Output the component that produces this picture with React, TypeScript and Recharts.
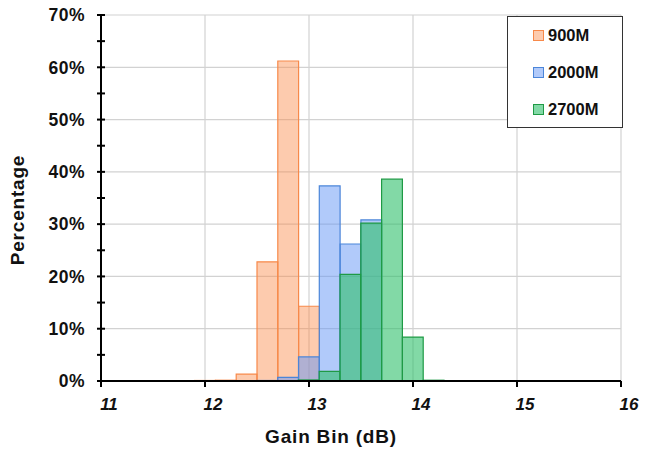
import { BarChart, Bar, XAxis, YAxis, CartesianGrid, Legend, Label } from "recharts";

// gain bins (dB), 0.2 dB wide, centred on the value
const gainBins = [12.0, 12.2, 12.4, 12.6, 12.8, 13.0, 13.2, 13.4, 13.6, 13.8, 14.0, 14.2];
// percentage of parts in each bin
const pct900M = [0.1, 0.15, 1.3, 22.8, 61.2, 14.3, null, null, null, null, null, null];
const pct2000M = [null, null, null, 0.1, 0.7, 4.6, 37.3, 26.2, 30.8, null, null, null];
const pct2700M = [null, null, null, null, null, 0.2, 1.85, 20.4, 30.2, 38.6, 8.4, 0.15];

const xTicks = [11, 12, 13, 14, 15, 16];
const yTicks = [0, 5, 10, 15, 20, 25, 30, 35, 40, 45, 50, 55, 60, 65, 70];
const yGrid = [0, 10, 20, 30, 40, 50, 60, 70];
const yMax = 70;
const binWidth = 0.2;

const series = [
  { key: "b900", name: "900M", fill: "#fb8c4c", fillOpacity: 0.45, stroke: "#f7894a", legendBg: "#fb8c4c73" },
  { key: "b2000", name: "2000M", fill: "#6495f5", fillOpacity: 0.5, stroke: "#4b85d9", legendBg: "#6495f580" },
  { key: "b2700", name: "2700M", fill: "#2ebf6a", fillOpacity: 0.6, stroke: "#1f9a45", legendBg: "#2ebf6a99" },
];

const data = gainBins.map((g, i) => ({
  gain: g,
  b900: pct900M[i],
  b2000: pct2000M[i],
  b2700: pct2700M[i],
}));

const W = 646;
const H = 454;
const margin = { top: 15, right: 25, bottom: 0, left: 41 };
const Y_AXIS_W = 60;
const plotW = W - margin.left - margin.right - Y_AXIS_W;
const barSize = (plotW / (xTicks[xTicks.length - 1] - xTicks[0])) * binWidth;

const FONT = "'Liberation Sans', Arial, sans-serif";

const YTick = (props: any) => {
  const { x, y, payload } = props;
  const major = payload.value % 10 === 0;
  return (
    <g>
      <line x1={x + 12} x2={x + 20} y1={y} y2={y} stroke="#000" strokeWidth={2} />
      {major && (
        <text
          x={x}
          y={y}
          dy="0.36em"
          textAnchor="end"
          fontFamily={FONT}
          fontWeight="bold"
          fontSize={17.5}
          letterSpacing={0.5}
          fill="#111"
        >
          {payload.value}%
        </text>
      )}
    </g>
  );
};

const XTick = (props: any) => {
  const { x, y, payload } = props;
  return (
    <text
      x={x + 8}
      y={y}
      dy="0.71em"
      textAnchor="middle"
      fontFamily={FONT}
      fontWeight="bold"
      fontStyle="italic"
      fontSize={17}
      fill="#111"
    >
      {payload.value}
    </text>
  );
};

const renderLegend = () => (
  <div
    style={{
      width: 116,
      height: 112,
      boxSizing: "border-box",
      border: "1px solid #333",
      background: "#fff",
    }}
  >
    {series.map((s) => (
      <div key={s.key} style={{ height: 38, marginTop: -1, display: "flex", alignItems: "center", paddingLeft: 25 }}>
        <span
          style={{
            display: "inline-block",
            width: 9,
            height: 9,
            border: `1px solid ${s.stroke}`,
            backgroundColor: s.legendBg,
          }}
        />
        <span style={{ marginLeft: 4, fontFamily: FONT, fontWeight: "bold", fontSize: 16.5, color: "#111" }}>
          {s.name}
        </span>
      </div>
    ))}
  </div>
);

export default function App() {
  return (
    <div style={{ position: "absolute", left: 0, top: 0, background: "#fff" }}>
      <BarChart
        width={W}
        height={H}
        data={data}
        margin={margin}
        barCategoryGap={0}
        barGap={-(barSize + 0.1)}
        barSize={barSize}
      >
        <CartesianGrid
          stroke="#d2d2d2"
          strokeWidth={1.2}
          horizontalCoordinatesGenerator={({ offset }: any) =>
            yGrid.map((v) => offset.top + offset.height * (1 - v / yMax))
          }
        />
        <XAxis
          dataKey="gain"
          type="number"
          domain={[xTicks[0], xTicks[xTicks.length - 1]]}
          ticks={xTicks}
          allowDataOverflow
          height={73}
          axisLine={{ stroke: "#000", strokeWidth: 2 }}
          tickLine={{ stroke: "#000", strokeWidth: 2 }}
          tickSize={6}
          tickMargin={11}
          tick={<XTick />}
        >
          <Label
            content={({ viewBox }: any) => (
              <text
                x={viewBox.x + viewBox.width / 2 - 30}
                y={viewBox.y + 62}
                textAnchor="middle"
                fontFamily={FONT}
                fontWeight="bold"
                fontSize={19}
                letterSpacing={0.8}
                fill="#111"
              >
                Gain Bin (dB)
              </text>
            )}
          />
        </XAxis>
        <YAxis
          type="number"
          domain={[0, yMax]}
          ticks={yTicks}
          interval={0}
          width={Y_AXIS_W}
          axisLine={{ stroke: "#000", strokeWidth: 2 }}
          tickLine={false}
          tickSize={0}
          tickMargin={16}
          tick={<YTick />}
        >
          <Label
            content={({ viewBox }: any) => {
              const cx = viewBox.x - 24;
              const cy = viewBox.y + viewBox.height / 2 + 12;
              return (
                <text
                  x={cx}
                  y={cy}
                  transform={`rotate(-90, ${cx}, ${cy})`}
                  textAnchor="middle"
                  dy="0.36em"
                  fontFamily={FONT}
                  fontWeight="bold"
                  fontSize={19}
                  letterSpacing={0.8}
                  fill="#111"
                >
                  Percentage
                </text>
              );
            }}
          />
        </YAxis>
        <Legend
          layout="vertical"
          align="center"
          verticalAlign="middle"
          wrapperStyle={{ left: 507, top: 16, width: 116, height: 112 }}
          content={renderLegend}
        />
        {series.map((s) => (
          <Bar
            key={s.key}
            dataKey={s.key}
            name={s.name}
            fill={s.fill}
            fillOpacity={s.fillOpacity}
            stroke={s.stroke}
            strokeWidth={1.2}
            isAnimationActive={false}
          />
        ))}
      </BarChart>
    </div>
  );
}
